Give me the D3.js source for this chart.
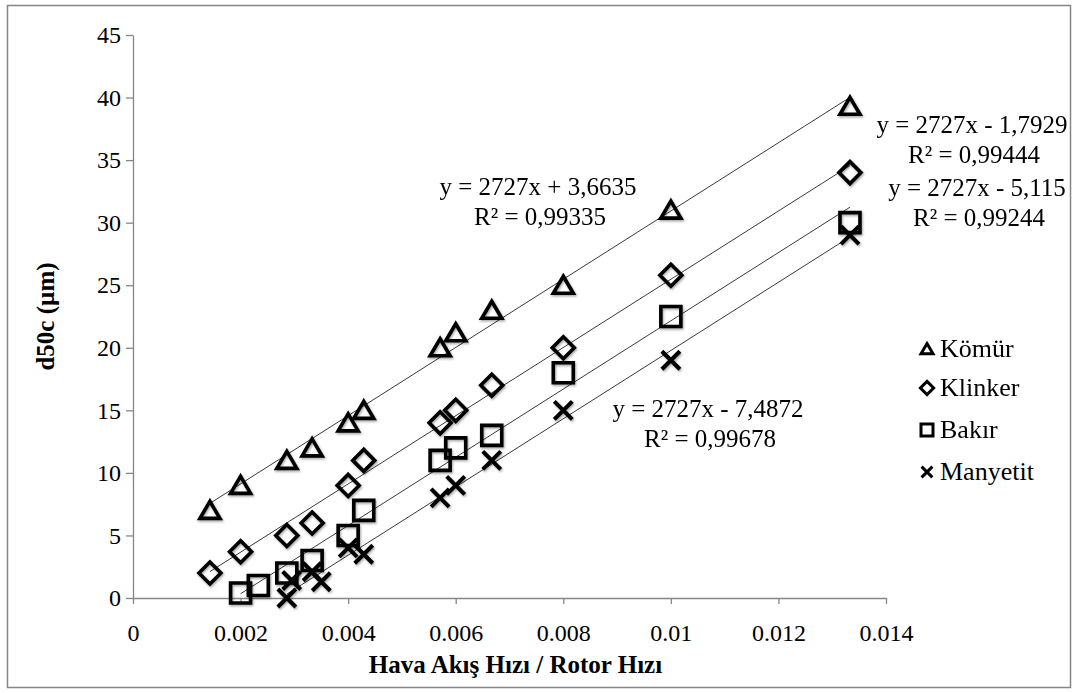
<!DOCTYPE html>
<html>
<head>
<meta charset="utf-8">
<script src="https://cdn.jsdelivr.net/npm/d3@7"></script>
<style>
  body { margin: 0; background: #fff; }
  text { font-family: "Liberation Serif", "Times New Roman", serif; fill: #000; }
</style>
</head>
<body>
<div id="chart"></div>
<script>
// series
var seriesNames = ["Kömür", "Klinker", "Bakır", "Manyetit"];

var xKomur = [0.00143, 0.002, 0.00286, 0.00333, 0.004, 0.00429, 0.00571, 0.006, 0.00667, 0.008, 0.01, 0.01333];
var yKomur = [7, 9, 11, 12, 14, 15, 20, 21.2, 23, 25, 31, 39.3];

var xKlinker = [0.00143, 0.002, 0.00286, 0.00333, 0.004, 0.00429, 0.00571, 0.006, 0.00667, 0.008, 0.01, 0.01333];
var yKlinker = [2, 3.7, 5, 6, 9, 11, 14, 15, 17, 20, 25.8, 34];

var xBakir = [0.002, 0.00233, 0.00286, 0.00333, 0.004, 0.00429, 0.00571, 0.006, 0.00667, 0.008, 0.01, 0.01333];
var yBakir = [0.4, 1, 2, 3, 5, 7, 11, 12, 13, 18, 22.5, 30];

var xManyetit = [0.00286, 0.00295, 0.00333, 0.0035, 0.004, 0.00429, 0.00571, 0.006, 0.00667, 0.008, 0.01, 0.01333];
var yManyetit = [0, 1.4, 2.1, 1.3, 4, 3.5, 8, 9, 11, 15, 19, 29];

// trendline coefficients as printed on the chart
var slopes = [2727, 2727, 2727, 2727];
var intercepts = [3.6635, -1.7929, -5.115, -7.4872];
var eqLabels = ["y = 2727x + 3,6635", "y = 2727x - 1,7929", "y = 2727x - 5,115", "y = 2727x - 7,4872"];
var r2Labels = ["R² = 0,99335", "R² = 0,99444", "R² = 0,99244", "R² = 0,99678"];

var xTicks = [0, 0.002, 0.004, 0.006, 0.008, 0.01, 0.012, 0.014];
var yTicks = [0, 5, 10, 15, 20, 25, 30, 35, 40, 45];

var width = 1078,
    height = 693;

var margin = {left: 133, right: 192, top: 35, bottom: 95};

var x = d3.scaleLinear()
    .domain([0, 0.014])
    .range([margin.left, width - margin.right]);

var y = d3.scaleLinear()
    .domain([0, 45])
    .range([height - margin.bottom, margin.top]);

var svg = d3.select("#chart").append("svg")
    .attr("width", width)
    .attr("height", height);

// soft shadow like the Excel markers
var defs = svg.append("defs");
var filt = defs.append("filter").attr("id", "shadow")
    .attr("x", "-50%").attr("y", "-50%").attr("width", "200%").attr("height", "200%");
filt.append("feDropShadow")
    .attr("dx", 1).attr("dy", 1.5).attr("stdDeviation", 1.2)
    .attr("flood-color", "#000").attr("flood-opacity", 0.35);

// outer frame
svg.append("rect")
    .attr("x", 7.5).attr("y", 5.5)
    .attr("width", 1063).attr("height", 682)
    .attr("fill", "none")
    .attr("stroke", "#868686")
    .attr("stroke-width", 1.5);

// axes
var xAxis = svg.append("g")
    .attr("transform", "translate(0," + y(0) + ")")
    .call(d3.axisBottom(x).tickValues(xTicks).tickSize(6).tickSizeOuter(0)
        .tickFormat(function(d) { return d === 0 ? "0" : String(+d.toFixed(3)); }));

var yAxis = svg.append("g")
    .attr("transform", "translate(" + x(0) + ",0)")
    .call(d3.axisLeft(y).tickValues(yTicks).tickSize(7).tickSizeOuter(0));

[xAxis, yAxis].forEach(function(a) {
  a.attr("font-family", "Liberation Serif, serif").attr("font-size", 24);
  a.select(".domain").attr("stroke", "#868686").attr("stroke-width", 1.3);
  a.selectAll(".tick line").attr("stroke", "#868686").attr("stroke-width", 1.3);
  a.selectAll(".tick text")
      .style("font-family", "'Liberation Serif', serif")
      .style("font-size", "24px")
      .attr("fill", "#000");
});
xAxis.selectAll(".tick text").attr("dy", "0.71em").attr("y", 26);
yAxis.selectAll(".tick text").attr("x", -12);

// axis titles
svg.append("text")
    .attr("x", x(0.007) + 6)
    .attr("y", 673)
    .attr("text-anchor", "middle")
    .style("font-size", "25px")
    .style("font-weight", "bold")
    .text("Hava Akış Hızı / Rotor Hızı");

svg.append("text")
    .attr("transform", "translate(54," + y(22.5) + ") rotate(-90)")
    .attr("text-anchor", "middle")
    .style("font-size", "25px")
    .style("font-weight", "bold")
    .text("d50c (µm)");

// marker shapes
function markerPath(i, s) {
  if (i === 0) return "M0," + (-0.9 * s) + "L" + s + "," + (0.8 * s) + "L" + (-s) + "," + (0.8 * s) + "Z";
  if (i === 1) return "M0," + (-1.1 * s) + "L" + (1.1 * s) + ",0L0," + (1.1 * s) + "L" + (-1.1 * s) + ",0Z";
  if (i === 2) return "M" + (-s) + "," + (-s) + "H" + s + "V" + s + "H" + (-s) + "Z";
  return "M" + (-0.9 * s) + "," + (-0.9 * s) + "L" + (0.9 * s) + "," + (0.9 * s) +
         "M" + (-0.9 * s) + "," + (0.9 * s) + "L" + (0.9 * s) + "," + (-0.9 * s);
}

var xs = [xKomur, xKlinker, xBakir, xManyetit];
var ys = [yKomur, yKlinker, yBakir, yManyetit];

var series = seriesNames.map(function(name, i) {
  return {
    name: name,
    idx: i,
    points: xs[i].map(function(v, j) { return {x: v, y: ys[i][j]}; })
  };
});

// trendlines over each series' x range
svg.append("g").selectAll("line")
    .data(series)
  .enter().append("line")
    .attr("x1", function(d) { return x(d3.min(d.points, function(p) { return p.x; })); })
    .attr("x2", function(d) { return x(d3.max(d.points, function(p) { return p.x; })); })
    .attr("y1", function(d) { var v = d3.min(d.points, function(p) { return p.x; }); return y(slopes[d.idx] * v + intercepts[d.idx]); })
    .attr("y2", function(d) { var v = d3.max(d.points, function(p) { return p.x; }); return y(slopes[d.idx] * v + intercepts[d.idx]); })
    .attr("stroke", "#3a3a3a")
    .attr("stroke-width", 1);

// points
series.forEach(function(s) {
  svg.append("g")
      .attr("filter", "url(#shadow)")
    .selectAll("path")
      .data(s.points)
    .enter().append("path")
      .attr("transform", function(d) { return "translate(" + x(d.x) + "," + y(d.y) + ")"; })
      .attr("d", markerPath(s.idx, 10))
      .attr("fill", "none")
      .attr("stroke", "#000")
      .attr("stroke-width", s.idx === 3 ? 4 : 3.6)
      .attr("stroke-linejoin", "miter");
});

// trendline equations
var eqPos = [[538, 195], [972, 133], [977, 196], [708, 417]];
eqPos.forEach(function(p, i) {
  var t = svg.append("text")
      .attr("x", p[0])
      .attr("y", p[1])
      .attr("text-anchor", "middle")
      .style("font-size", "25px");
  t.append("tspan").attr("x", p[0]).text(eqLabels[i]);
  t.append("tspan").attr("x", p[0] + 2).attr("dy", 30).text(r2Labels[i]);
});

// legend
var legend = svg.append("g")
    .attr("transform", "translate(927,349)");

var item = legend.selectAll("g")
    .data(seriesNames)
  .enter().append("g")
    .attr("transform", function(d, i) { return "translate(0," + [0, 39, 81, 123][i] + ")"; });

item.append("path")
    .attr("d", function(d, i) { return markerPath(i, 6); })
    .attr("fill", "#fff")
    .attr("stroke", "#000")
    .attr("stroke-width", 3);

item.append("text")
    .attr("x", 13)
    .attr("y", 8)
    .style("font-size", "26px")
    .text(function(d) { return d; });
</script>
</body>
</html>
